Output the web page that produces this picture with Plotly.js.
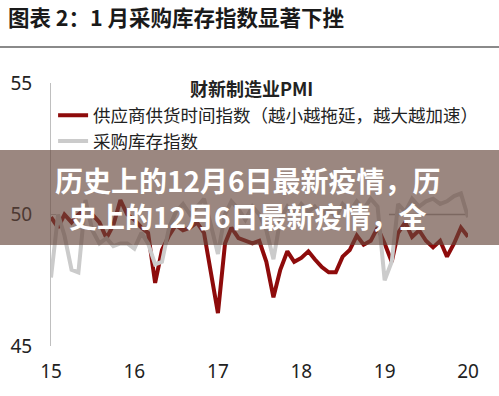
<!DOCTYPE html>
<html>
<head>
<meta charset="utf-8">
<script src="https://cdn.plot.ly/plotly-3.0.1.min.js"></script>
<style>html,body{margin:0;padding:0;background:#fff;}#chart{width:499px;height:396px;}</style>
</head>
<body>
<div id="chart"></div>
<script>
// Monthly observations, Jan 2015 .. Jan 2020
var months = [];
for (var yr = 2015; yr <= 2020; yr++) {
  for (var m = 1; m <= 12; m++) {
    if (yr === 2020 && m > 1) break;
    months.push(yr + '-' + (m < 10 ? '0' + m : m) + '-01');
  }
}
var supplierDelivery = [
  49.9, 49.5, 50.0, 49.7, 50.0, 50.2, 50.0, 49.7, 49.1, 49.6, 50.55, 50.0,
  49.8, 49.5, 49.3, 47.4, 48.65, 49.2, 49.6, 49.4, 49.5, 49.7, 49.3, 47.9,
  46.25, 48.9, 49.5, 49.1, 49.0, 48.9, 49.0, 48.2, 46.85, 47.9, 48.6, 48.2,
  48.35, 48.6, 48.3, 48.0, 47.8, 47.8, 48.4, 48.65, 49.2, 48.85, 49.0, 49.5,
  48.9, 48.2, 49.3, 49.7, 49.15, 49.4, 49.0, 48.75, 49.0, 48.4, 48.9, 49.5,
  49.15
];
var purchaseInventory = [
  47.6, 50.0, 49.2, 47.9, 47.8, 50.55, 49.4, 48.9, 49.1, 48.8, 48.9, 48.9,
  48.7, 49.3, 48.9, 48.1, 48.2, 49.5, 50.1, 50.4, 50.0, 50.3, 50.6, 49.6,
  48.5, 50.0, 50.5, 50.2, 49.8, 50.3, 50.0, 49.4, 48.3, 49.8, 50.3, 50.0,
  50.4, 50.1, 50.3, 50.0, 50.2, 49.9, 50.4, 50.1, 50.5, 50.2, 50.6, 50.3,
  47.5, 48.2, 50.4, 50.1, 50.6, 50.3, 50.5, 50.6, 50.4, 50.5, 50.7, 50.8,
  49.9
];
var seriesNames = ['供应商供货时间指数（越小越拖延，越大越加速）', '采购库存指数'];
var legendTitle = '财新制造业PMI';
var chartTitle = '图表 2：1 月采购库存指数显著下挫';
var bannerText = '历史上的12月6日最新疫情，历<br>史上的12月6日最新疫情，全';
var yTicks = [45, 50, 55];
var xTicks = ['2015-01-01', '2016-01-01', '2017-01-01', '2018-01-01', '2019-01-01', '2020-01-01'];

var cjk = 'Noto Sans CJK SC';
var traces = [
  {x: months, y: supplierDelivery, name: seriesNames[0], type: 'scatter', mode: 'lines',
   line: {color: '#8E0B0B', width: 4}},
  {x: months, y: purchaseInventory, name: seriesNames[1], type: 'scatter', mode: 'lines',
   line: {color: '#CBCBCB', width: 4}}
];

var layout = {
  width: 499, height: 396,
  margin: {l: 51, r: 31, t: 83, b: 50},
  paper_bgcolor: '#fff', plot_bgcolor: '#fff',
  title: {text: chartTitle, xref: 'container', yref: 'container', x: 0.016, xanchor: 'left',
          y: 0.954, yanchor: 'middle', font: {family: cjk, size: 21.5, weight: 700, color: '#1a1a1a'}},
  xaxis: {type: 'date', range: ['2015-01-01', '2020-01-01'], tickvals: xTicks, tickformat: '%y',
          showgrid: false, zeroline: false, showline: false, ticks: '',
          ticklabelstandoff: 12,
          tickfont: {family: 'Noto Sans', size: 19, color: '#222'}},
  yaxis: {range: [45, 55], tickvals: yTicks, showgrid: false, zeroline: false,
          showline: true, linecolor: '#bfbfbf', linewidth: 1,
          ticks: 'inside', ticklen: 5, tickcolor: '#bfbfbf',
          ticklabelstandoff: 14,
          tickfont: {family: 'Noto Sans', size: 19, color: '#222'}},
  showlegend: true,
  legend: {x: 0.005, y: 0.945, xanchor: 'left', yanchor: 'top', bgcolor: 'rgba(0,0,0,0)',
           font: {family: cjk, size: 17.5, color: '#222'}, tracegroupgap: 0},
  shapes: [
    {type: 'line', xref: 'paper', yref: 'paper', x0: -0.2, x1: 1.2, y0: 1.137, y1: 1.137,
     line: {color: '#8a8a8a', width: 2}},
    {type: 'line', xref: 'x', yref: 'y', x0: '2019-01-20', x1: '2020-01-20', y0: 50, y1: 50,
     layer: 'below', line: {color: '#a5a5a5', width: 1.5}},
    {type: 'rect', xref: 'paper', yref: 'paper', x0: -0.2, x1: 1.2, y0: 0.384, y1: 0.745,
     layer: 'above', fillcolor: 'rgba(101,70,60,0.65)', line: {width: 0}}
  ],
  annotations: [
    {text: '<b>' + legendTitle + '</b>', xref: 'paper', yref: 'paper', x: (251 - 51) / 417, y: (346 - 88) / 263,
     xanchor: 'center', yanchor: 'middle', showarrow: false,
     font: {family: cjk, size: 18, color: '#222'}},
    {text: bannerText, xref: 'paper', yref: 'paper', x: 0.473, y: 0.563, xanchor: 'center', yanchor: 'middle',
     align: 'center', showarrow: false, font: {family: cjk, size: 28, weight: 700, color: '#ffffff'}}
  ]
};

Plotly.newPlot('chart', traces, layout, {staticPlot: true, displayModeBar: false});
</script>
</body>
</html>
